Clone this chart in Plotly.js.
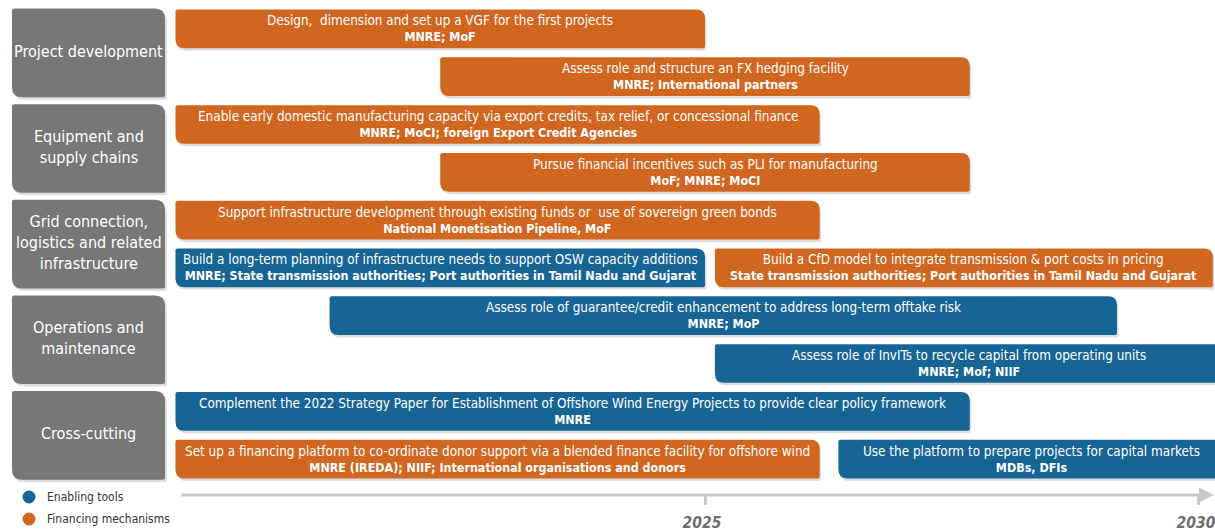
<!DOCTYPE html>
<html>
<head>
<meta charset="utf-8">
<script src="https://cdn.plot.ly/plotly-3.0.1.min.js"></script>
<style>
html,body{margin:0;padding:0;background:#fff;}
#chart{width:1215px;height:532px;}
</style>
</head>
<body>
<div id="chart"></div>
<script>
// ---------- DATA ----------
const categories = [
  'Project development',
  'Equipment and<br>supply chains',
  'Grid connection,<br>logistics and related<br>infrastructure',
  'Operations and<br>maintenance',
  'Cross-cutting'
];
const categoryFirstRow = [1, 3, 5, 7, 9];
const categoryLastRow  = [2, 4, 6, 8, 10];

const actions = [
  'Design,  dimension and set up a VGF for the first projects',
  'Assess role and structure an FX hedging facility',
  'Enable early domestic manufacturing capacity via export credits, tax relief, or concessional finance',
  'Pursue financial incentives such as PLI for manufacturing',
  'Support infrastructure development through existing funds or  use of sovereign green bonds',
  'Build a long-term planning of infrastructure needs to support OSW capacity additions',
  'Build a CfD model to integrate transmission &amp; port costs in pricing',
  'Assess role of guarantee/credit enhancement to address long-term offtake risk',
  'Assess role of InvITs to recycle capital from operating units',
  'Complement the 2022 Strategy Paper for Establishment of Offshore Wind Energy Projects to provide clear policy framework',
  'Set up a financing platform to co-ordinate donor support via a blended finance facility for offshore wind',
  'Use the platform to prepare projects for capital markets'
];
const actors = [
  'MNRE; MoF',
  'MNRE; International partners',
  'MNRE; MoCI; foreign Export Credit Agencies',
  'MoF; MNRE; MoCI',
  'National Monetisation Pipeline, MoF',
  'MNRE; State transmission authorities; Port authorities in Tamil Nadu and Gujarat',
  'State transmission authorities; Port authorities in Tamil Nadu and Gujarat',
  'MNRE; MoP',
  'MNRE; Mof; NIIF',
  'MNRE',
  'MNRE (IREDA); NIIF; International organisations and donors',
  'MDBs, DFIs'
];
const startYear = [2019.64, 2022.32, 2019.64, 2022.32, 2019.64, 2019.64, 2025.10, 2021.20, 2025.10, 2019.64, 2019.64, 2026.35];
const endYear   = [2025.00, 2027.68, 2026.16, 2027.68, 2026.16, 2025.00, 2030.14, 2029.17, 2030.25, 2027.68, 2026.16, 2030.25];
const actionRow = [1, 2, 3, 4, 5, 6, 6, 7, 8, 9, 10, 10];
const actionType = ['Financing mechanisms','Financing mechanisms','Financing mechanisms','Financing mechanisms','Financing mechanisms',
  'Enabling tools','Financing mechanisms','Enabling tools','Enabling tools','Enabling tools','Financing mechanisms','Enabling tools'];

const legendLabels = ['Enabling tools', 'Financing mechanisms'];
const tickYears = [2025, 2030];
const tickLabels = ['2025', '2030'];

// ---------- STYLE ----------
const COLORS = {'Enabling tools': '#176594', 'Financing mechanisms': '#D0661F'};
const GREY_BOX = '#777777';
const FONT = '"DejaVu Sans Condensed", "Liberation Sans Narrow", "Roboto", sans-serif';

const W = 1215, H = 532, MB = 37;
const PH = H - MB;
const XR = [2017.864, 2030.162];
const YR = [10.751, 0.3954];
const pxX = W / (XR[1] - XR[0]);
const pxY = PH / (YR[0] - YR[1]);
const HALF = 0.405;

function diagPath(x0, x1, y0, y1, bx, by, sx, sy) {
  // y0 top (smaller value; axis reversed), y1 bottom
  return 'M' + (x0 + sx) + ',' + y0 +
    ' L' + (x1 - bx) + ',' + y0 +
    ' Q' + x1 + ',' + y0 + ' ' + x1 + ',' + (y0 + by) +
    ' L' + x1 + ',' + (y1 - sy) +
    ' Q' + x1 + ',' + y1 + ' ' + (x1 - sx) + ',' + y1 +
    ' L' + (x0 + bx) + ',' + y1 +
    ' Q' + x0 + ',' + y1 + ' ' + x0 + ',' + (y1 - by) +
    ' L' + x0 + ',' + (y0 + sy) +
    ' Q' + x0 + ',' + y0 + ' ' + (x0 + sx) + ',' + y0 + ' Z';
}

const shapes = [];
const annotations = [];

// category boxes (paper x)
const boxX0 = 12 / W, boxX1 = 165 / W;
categories.forEach((c, i) => {
  const y0 = categoryFirstRow[i] - 0.425, y1 = categoryLastRow[i] + 0.43;
  const bx = 10 / W, by = 10 / pxY, sx = 2 / W, sy = 2 / pxY;
  shapes.push({type: 'path', xref: 'paper', yref: 'y', layer: 'below',
    path: diagPath(boxX0 + 2 / W, boxX1 + 2 / W, y0 + 2.5 / pxY, y1 + 2.5 / pxY, bx, by, sx, sy),
    fillcolor: 'rgba(0,0,0,0.13)', line: {width: 0}});
  shapes.push({type: 'path', xref: 'paper', yref: 'y', layer: 'below',
    path: diagPath(boxX0, boxX1, y0, y1, bx, by, sx, sy),
    fillcolor: GREY_BOX, line: {width: 0}});
  annotations.push({xref: 'paper', yref: 'y', x: (boxX0 + boxX1) / 2, y: (y0 + y1) / 2 - 0.03,
    text: c, showarrow: false, xanchor: 'center', yanchor: 'middle', align: 'center',
    font: {family: FONT, size: 16, color: '#ffffff'}});
});

// action bars
actions.forEach((a, i) => {
  const x0 = startYear[i], x1 = endYear[i];
  const y0 = actionRow[i] - HALF, y1 = actionRow[i] + HALF;
  const bx = 9 / pxX, by = 9 / pxY, sx = 2 / pxX, sy = 2 / pxY;
  shapes.push({type: 'path', xref: 'x', yref: 'y', layer: 'below',
    path: diagPath(x0 + 1.5 / pxX, x1 + 1.5 / pxX, y0 + 2.5 / pxY, y1 + 2.5 / pxY, bx, by, sx, sy),
    fillcolor: 'rgba(0,0,0,0.13)', line: {width: 0}});
  shapes.push({type: 'path', xref: 'x', yref: 'y', layer: 'below',
    path: diagPath(x0, x1, y0, y1, bx, by, sx, sy),
    fillcolor: COLORS[actionType[i]], line: {width: 0}});
  annotations.push({xref: 'x', yref: 'y', x: (x0 + x1) / 2, y: actionRow[i],
    text: '<span style="font-size:13.4px">' + a + '</span><br><b>' + actors[i] + '</b>', showarrow: false,
    xanchor: 'center', yanchor: 'middle', align: 'center',
    font: {family: FONT, size: 12.4, color: '#ffffff'}});
});

// timeline arrow
annotations.push({xref: 'x', yref: 'paper', x: XR[1] - 0.01, y: 0,
  axref: 'x', ayref: 'pixel', ax: 2019.686, ay: 0, text: '', showarrow: true,
  arrowhead: 2, arrowsize: 1, arrowwidth: 3, arrowcolor: '#C9C9C9', standoff: 0, startstandoff: 0});

// legend
legendLabels.forEach((l, i) => {
  const py = [497, 519][i];
  const yp = (PH - py) / PH;
  const r = 6.5;
  shapes.push({type: 'circle', xref: 'paper', yref: 'paper',
    x0: (29 - r) / W, x1: (29 + r) / W, y0: yp - r / PH, y1: yp + r / PH,
    fillcolor: COLORS[l], line: {width: 0}});
  annotations.push({xref: 'paper', yref: 'paper', x: 45 / W, y: yp, text: l,
    showarrow: false, xanchor: 'left', yanchor: 'middle',
    font: {family: FONT, size: 12, color: '#333333'}});
});

const layout = {
  width: W, height: H,
  margin: {l: 0, r: 0, t: 0, b: MB, pad: 0},
  paper_bgcolor: '#ffffff', plot_bgcolor: '#ffffff',
  showlegend: false,
  xaxis: {range: XR, showgrid: false, zeroline: false, showline: false,
    tickvals: tickYears, ticktext: tickLabels, ticks: 'outside', ticklen: 9, tickwidth: 3,
    tickcolor: '#C9C9C9', fixedrange: true, ticklabeloverflow: 'allow',
    ticklabelstandoff: 4, ticklabelshift: -3,
    tickfont: {family: FONT, size: 15.5, color: '#6E6E6E', weight: 'bold', style: 'italic'}},
  yaxis: {range: YR, visible: false, fixedrange: true},
  shapes: shapes,
  annotations: annotations
};

Plotly.newPlot('chart', [{x: [], y: [], type: 'scatter', hoverinfo: 'skip'}], layout, {displayModeBar: false, staticPlot: true});
</script>
</body>
</html>
